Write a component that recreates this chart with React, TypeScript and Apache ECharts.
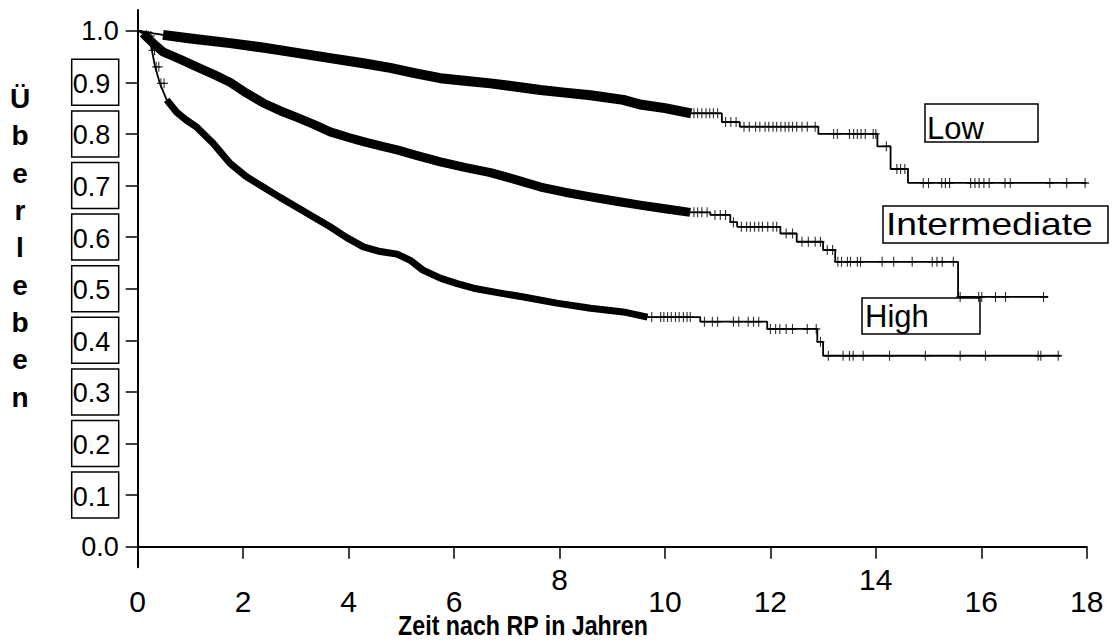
import React, { useEffect, useRef } from "react";
import * as echarts from "echarts";

// ---------- data ----------
const xTicks = [0, 2, 4, 6, 8, 10, 12, 14, 16, 18];
const raisedXTicks = [8, 14];
const yTicks = [0, 0.1, 0.2, 0.3, 0.4, 0.5, 0.6, 0.7, 0.8, 0.9, 1.0];
const unboxedYTicks = [0, 1.0];
const yTitle = "Überleben";
const xTitle = "Zeit nach RP in Jahren";
const groupNames = ["Low", "Intermediate", "High"];

// Kaplan-Meier curves: [time in years, survival after the drop at that time]
const lowSurv: [number, number][] = [
  [0, 1.0], [0.15, 0.998], [0.3, 0.995], [0.48, 0.992], [1.0, 0.985], [1.75, 0.976],
  [2.4, 0.967], [3.02, 0.957], [3.65, 0.947], [4.28, 0.937], [4.79, 0.928], [5.25, 0.918],
  [5.74, 0.908], [6.2, 0.903], [6.69, 0.898], [7.15, 0.892], [7.64, 0.885], [8.1, 0.88],
  [8.59, 0.875], [9.21, 0.866], [9.53, 0.857], [10.0, 0.85], [10.5, 0.84], [11.08, 0.823],
  [11.42, 0.814], [12.91, 0.8], [14.03, 0.776], [14.28, 0.732], [14.61, 0.705], [18.0, 0.705],
];
const intSurv: [number, number][] = [
  [0, 1.0], [0.1, 0.995], [0.2, 0.985], [0.3, 0.975], [0.48, 0.959], [0.8, 0.945],
  [1.12, 0.93], [1.45, 0.915], [1.75, 0.9], [2.05, 0.88], [2.38, 0.86], [2.7, 0.845],
  [3.02, 0.832], [3.35, 0.818], [3.65, 0.804], [4.0, 0.793], [4.28, 0.785], [4.6, 0.777],
  [4.92, 0.769], [5.3, 0.758], [5.74, 0.746], [6.2, 0.735], [6.69, 0.725], [7.15, 0.712],
  [7.64, 0.697], [8.1, 0.687], [8.59, 0.678], [9.05, 0.67], [9.53, 0.662], [10.0, 0.655],
  [10.48, 0.648], [10.86, 0.643], [11.24, 0.629], [11.37, 0.62], [12.19, 0.607], [12.5, 0.591],
  [13.0, 0.575], [13.23, 0.552], [15.56, 0.484], [17.27, 0.484],
];
const highSurv: [number, number][] = [
  [0, 1.0], [0.1, 0.998], [0.2, 0.99], [0.27, 0.962], [0.33, 0.93], [0.42, 0.898],
  [0.55, 0.866], [0.74, 0.842], [0.92, 0.827], [1.12, 0.813], [1.43, 0.782], [1.75, 0.743],
  [2.05, 0.718], [2.38, 0.697], [2.7, 0.677], [3.02, 0.658], [3.35, 0.638], [3.65, 0.62],
  [3.95, 0.6], [4.28, 0.581], [4.6, 0.572], [4.92, 0.567], [5.17, 0.555], [5.41, 0.536],
  [5.75, 0.52], [6.06, 0.51], [6.37, 0.501], [6.85, 0.492], [7.32, 0.484], [7.95, 0.472],
  [8.59, 0.462], [9.21, 0.455], [9.67, 0.445], [10.67, 0.436], [11.94, 0.422], [12.89, 0.397],
  [13.0, 0.37], [17.5, 0.37],
];

// time spans where censoring marks are so dense they form a solid band
const lowDense: [number, number] = [0.48, 10.5];
const intDense: [number, number] = [0.05, 10.48];
const highDense: [number, number] = [0.5, 9.67];

// individual censoring times (sparse part)
const lowCensor = [
  10.55, 10.62, 10.7, 10.78, 10.85, 10.92, 11.0, 11.15, 11.25, 11.35, 11.5, 11.6, 11.72, 11.8,
  11.9, 11.97, 12.05, 12.12, 12.2, 12.28, 12.35, 12.42, 12.5, 12.6, 12.7, 12.85, 13.2, 13.27,
  13.5, 13.58, 13.65, 13.72, 13.8, 13.95, 14.0, 14.2, 14.4, 14.47, 14.55, 14.9, 15.0, 15.25,
  15.32, 15.4, 15.8, 15.88, 15.96, 16.05, 16.15, 16.45, 16.55, 17.3, 17.62, 17.97,
];
const intCensor = [
  10.55, 10.62, 10.7, 10.8, 10.95, 11.05, 11.15, 11.3, 11.45, 11.55, 11.62, 11.7, 11.78, 11.85,
  11.95, 12.05, 12.12, 12.3, 12.42, 12.6, 12.72, 12.85, 12.95, 13.08, 13.18, 13.28, 13.35,
  13.46, 13.52, 13.65, 13.71, 14.12, 14.34, 14.69, 15.07, 15.16, 15.26, 15.47, 15.6, 15.95,
  16.01, 16.27, 16.46, 17.18,
];
const highCensor = [
  0.2, 0.25, 0.28, 0.32, 0.35, 0.4, 0.44, 0.5, 9.75, 9.92, 9.98, 10.05, 10.12, 10.2, 10.27,
  10.35, 10.42, 10.48, 10.75, 10.9, 11.0, 11.3, 11.4, 11.58, 11.68, 11.78, 12.0, 12.1, 12.18,
  12.3, 12.42, 12.7, 12.87, 12.95, 13.1, 13.38, 13.5, 13.57, 13.76, 14.26, 14.94, 15.6, 16.08,
  17.08, 17.13, 17.46,
];

// ---------- helpers ----------
const survAt = (curve: [number, number][], t: number) => {
  let s = curve[0][1];
  for (const [ti, si] of curve) {
    if (ti <= t) s = si;
    else break;
  }
  return s;
};
const between = (curve: [number, number][], a: number, b: number) =>
  curve.filter(([t]) => t >= a && t <= b);

const PLUS = "path://M4.3,0 H5.7 V4.3 H10 V5.7 H5.7 V10 H4.3 V5.7 H0 V4.3 H4.3 Z";
const SANS = "'Liberation Sans', Arial, Helvetica, sans-serif";
const normalXTicks = xTicks.filter((v) => !raisedXTicks.includes(v));

export default function App() {
  const ref = useRef<HTMLDivElement>(null);

  useEffect(() => {
    if (!ref.current) return;
    const chart = echarts.init(ref.current, undefined, { renderer: "svg" });

    const groups = [
      { curve: lowSurv, dense: lowDense, censor: lowCensor, band: 10 },
      { curve: intSurv, dense: intDense, censor: intCensor, band: 9 },
      { curve: highSurv, dense: highDense, censor: highCensor, band: 7 },
    ];

    const base = { showSymbol: false, symbol: "none", silent: true, xAxisIndex: 0 };
    const series: any[] = [];
    groups.forEach((g, i) => {
      series.push({
        ...base,
        type: "line",
        name: groupNames[i],
        data: between(g.curve, 0, g.dense[1]),
        lineStyle: { color: "#000", width: 1.8 },
        z: 3,
      });
      series.push({
        ...base,
        type: "line",
        name: groupNames[i] + " dense",
        data: between(g.curve, g.dense[0], g.dense[1]),
        lineStyle: { color: "#000", width: g.band, cap: "butt", join: "round" },
        z: 2,
      });
      series.push({
        ...base,
        type: "line",
        name: groupNames[i] + " tail",
        data: between(g.curve, g.dense[1], 99),
        step: "end",
        lineStyle: { color: "#000", width: 1.8 },
        z: 3,
      });
      series.push({
        type: "scatter",
        name: groupNames[i] + " censored",
        xAxisIndex: 0,
        data: g.censor.map((t) => [t, survAt(g.curve, t)]),
        symbol: PLUS,
        symbolSize: [8, 10],
        itemStyle: { color: "#000" },
        silent: true,
        z: 4,
      });
    });

    const xLabelStyle = { fontFamily: SANS, fontSize: 30, lineHeight: 30, color: "#000" };

    const option: any = {
      animation: false,
      backgroundColor: "#fff",
      grid: {
        left: 137.7,
        right: 27.3,
        top: 10.1,
        bottom: 74.7,
        containLabel: false,
        outerBoundsMode: "none",
      },
      xAxis: [
        {
          type: "value",
          position: "bottom",
          min: 0,
          max: 18,
          interval: 2,
          axisLine: { onZero: true, lineStyle: { color: "#000", width: 2 } },
          axisTick: { show: true, length: 12, lineStyle: { color: "#000", width: 1.5 } },
          splitLine: { show: false },
          axisLabel: { ...xLabelStyle, customValues: normalXTicks, margin: 19 },
        },
        {
          type: "value",
          position: "bottom",
          min: 0,
          max: 18,
          interval: 2,
          axisLine: { show: false, onZero: true },
          axisTick: { show: false },
          splitLine: { show: false },
          axisLabel: { ...xLabelStyle, customValues: raisedXTicks, margin: -3 },
        },
      ],
      yAxis: {
        type: "value",
        min: -0.04,
        max: 1.04,
        axisLine: { lineStyle: { color: "#000", width: 2 } },
        axisTick: {
          show: true,
          length: 12,
          customValues: yTicks,
          lineStyle: { color: "#000", width: 1.5 },
        },
        splitLine: { show: false },
        axisLabel: {
          customValues: yTicks,
          margin: 19,
          formatter: (v: number) => {
            const txt = v.toFixed(1);
            return unboxedYTicks.some((u) => Math.abs(u - v) < 1e-6)
              ? `{n|${txt}}`
              : `{b|${txt}}`;
          },
          rich: {
            n: { fontFamily: SANS, fontSize: 27, color: "#000" },
            b: {
              fontFamily: SANS,
              fontSize: 27,
              color: "#000",
              borderColor: "#000",
              borderWidth: 1.5,
              width: 38,
              align: "left",
              padding: [11, 8, 8, 1],
            },
          },
        },
      },
      graphic: [
        {
          type: "text",
          x: 20,
          y: 80,
          silent: true,
          style: {
            text: yTitle.split("").join("\n"),
            fontFamily: SANS,
            fontWeight: "bold",
            fontSize: 28,
            lineHeight: 37.3,
            fill: "#000",
            align: "center",
            verticalAlign: "top",
          },
        },
        {
          type: "text",
          x: 523,
          y: 625,
          scaleX: 0.86,
          silent: true,
          style: {
            text: xTitle,
            fontFamily: SANS,
            fontWeight: "bold",
            fontSize: 27,
            lineHeight: 27,
            fill: "#000",
            align: "center",
            verticalAlign: "middle",
          },
        },
        {
          type: "rect",
          silent: true,
          shape: { x: 925, y: 104, width: 113, height: 38 },
          style: { fill: "none", stroke: "#000", lineWidth: 1.5 },
        },
        {
          type: "text",
          x: 927,
          y: 128,
          silent: true,
          style: {
            text: groupNames[0],
            fontFamily: SANS,
            fontSize: 31,
            fill: "#000",
            align: "left",
            verticalAlign: "middle",
          },
        },
        {
          type: "rect",
          silent: true,
          shape: { x: 883, y: 206, width: 225, height: 37 },
          style: { fill: "none", stroke: "#000", lineWidth: 1.5 },
        },
        {
          type: "text",
          x: 886,
          y: 224,
          scaleX: 1.2,
          silent: true,
          style: {
            text: groupNames[1],
            fontFamily: SANS,
            fontSize: 31,
            fill: "#000",
            align: "left",
            verticalAlign: "middle",
          },
        },
        {
          type: "rect",
          silent: true,
          shape: { x: 862, y: 298, width: 118, height: 36 },
          style: { fill: "none", stroke: "#000", lineWidth: 1.5 },
        },
        {
          type: "text",
          x: 865,
          y: 316,
          silent: true,
          style: {
            text: groupNames[2],
            fontFamily: SANS,
            fontSize: 31,
            fill: "#000",
            align: "left",
            verticalAlign: "middle",
          },
        },
      ],
      series,
    };

    chart.setOption(option);
    return () => chart.dispose();
  }, []);

  return (
    <div
      ref={ref}
      style={{ position: "absolute", left: 0, top: 0, width: 1114, height: 642, background: "#fff" }}
    />
  );
}
